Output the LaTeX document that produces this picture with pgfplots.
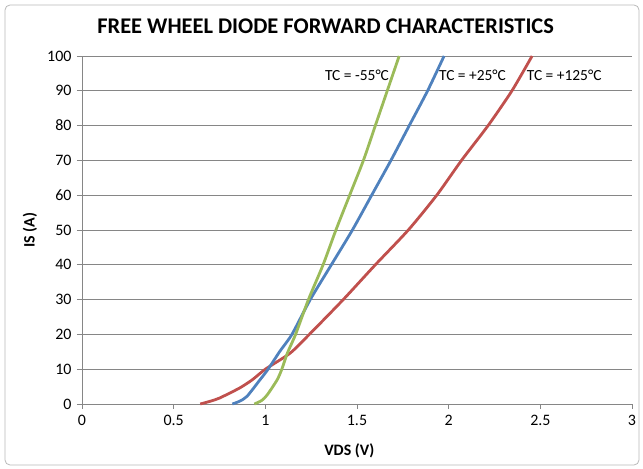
\documentclass[border=0pt]{standalone}
\usepackage{fontspec}
\setmainfont{Carlito}
\usepackage{pgfplots}
\pgfplotsset{compat=1.18}
\definecolor{xlgreen}{HTML}{9BBB59}
\definecolor{xlblue}{HTML}{4F81BD}
\definecolor{xlred}{HTML}{C0504D}
\definecolor{gridgray}{HTML}{868686}
\begin{document}
\begin{tikzpicture}[x=1bp,y=1bp]
\path[use as bounding box] (-82,-65) rectangle (561,404);
\draw[gray!55, rounded corners=5bp, line width=0.8bp] (-77,-61) rectangle (557,399);
\begin{axis}[
  at={(0,0)}, anchor=south west,
  scale only axis, width=550bp, height=348bp,
  xmin=0, xmax=3, ymin=0, ymax=100,
  xtick={0,0.5,...,3}, ytick={0,10,...,100},
  axis lines=left, axis line style={gridgray, line width=0.8bp, -},
  ymajorgrids, grid style={gridgray, line width=0.8bp},
  tick style={gridgray, line width=0.8bp},
  tick align=outside, major tick length=5bp,
  ticklabel style={font=\fontsize{16}{18}\selectfont},
  /pgf/number format/assume math mode=true,
  xticklabel style={yshift=-3bp},
  yticklabel style={xshift=-2bp},
  xlabel={\textbf{VDS (V)}}, ylabel={\textbf{IS (A)}},
  label style={font=\fontsize{16}{18}\selectfont},
  xlabel style={at={(axis description cs:0.486,0)}, anchor=center, yshift=-47bp},
  ylabel style={at={(axis description cs:0,0.5)}, anchor=center, yshift=52bp},
  title={\textbf{FREE WHEEL DIODE FORWARD CHARACTERISTICS}},
  title style={font=\fontsize{22.5}{24}\selectfont, at={(axis description cs:0.443,1)}, anchor=center, yshift=24bp},
  clip=false,
]
\addplot[xlred, line width=2.8bp, smooth, tension=0.4] coordinates {
(0.645,0) (0.70,0.8) (0.75,1.7) (0.86,4.6) (0.93,7) (1.0,10) (1.135,14.6) (1.24,20) (1.425,30) (1.60,40) (1.78,50) (1.935,60) (2.07,70) (2.215,80) (2.345,90) (2.455,100)};
\addplot[xlblue, line width=2.8bp, smooth, tension=0.4] coordinates {
(0.82,0) (0.86,0.8) (0.90,2.2) (0.97,6.9) (1.015,10) (1.08,15.2) (1.145,20) (1.245,30) (1.36,40) (1.475,50) (1.58,60) (1.685,70) (1.785,80) (1.885,90) (1.975,100)};
\addplot[xlgreen, line width=2.8bp, smooth, tension=0.4] coordinates {
(0.94,0) (0.98,1) (1.01,2.6) (1.064,6.9) (1.09,10) (1.12,14.6) (1.165,20) (1.235,30) (1.315,40) (1.385,50) (1.46,60) (1.535,70) (1.60,80) (1.665,90) (1.73,100)};
\node[font=\fontsize{15.5}{17}\selectfont] at (axis cs:1.50,94.5) {TC = -55\textdegree C};
\node[font=\fontsize{15.5}{17}\selectfont] at (axis cs:2.13,94.5) {TC = +25\textdegree C};
\node[font=\fontsize{15.5}{17}\selectfont] at (axis cs:2.63,94.5) {TC = +125\textdegree C};
\end{axis}
\end{tikzpicture}
\end{document}
